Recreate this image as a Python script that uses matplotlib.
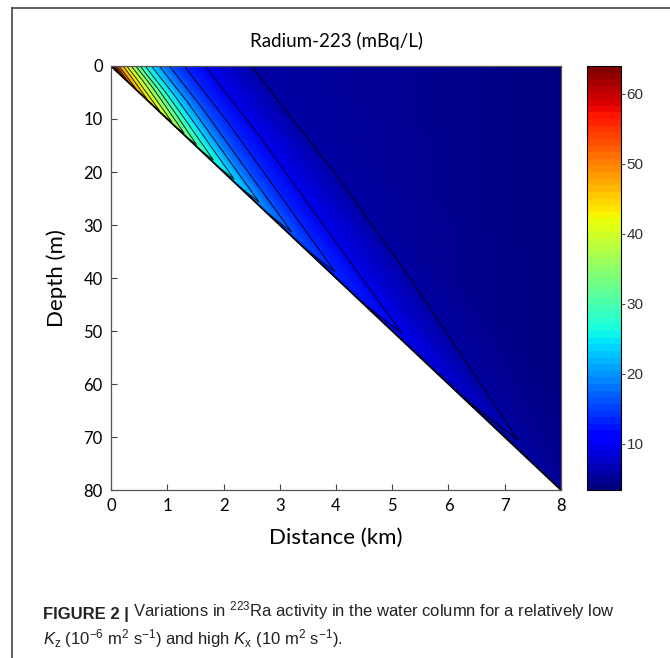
import numpy as np
import matplotlib
matplotlib.use("Agg")
import matplotlib.pyplot as plt
import matplotlib.tri as mtri
from matplotlib.lines import Line2D
from matplotlib.colors import Normalize
from matplotlib.cm import ScalarMappable

# contour levels (mBq/L), from the shore outwards
LEVELS = [62, 58.5, 55, 51.5, 48, 44.5, 41, 37.5, 34, 30.5, 27, 23.5, 20, 16.5, 13, 9.5, 6]
# fraction of local water depth where each contour position is read
# (last two: the wedge tip just above the floor, and where it returns to the floor)
DEPTH_FRAC = [0.0, 0.25, 0.5, 0.75, 0.975, 1.0]
# distance (km) of each contour at those depth fractions
CONTOUR_X = [
    [0.025, 0.030, 0.040, 0.053, 0.08, 0.07],
    [0.045, 0.055, 0.071, 0.095, 0.14, 0.12],
    [0.07, 0.085, 0.11, 0.15, 0.21, 0.18],
    [0.10, 0.12, 0.16, 0.21, 0.31, 0.27],
    [0.14, 0.17, 0.22, 0.30, 0.44, 0.38],
    [0.21, 0.26, 0.33, 0.45, 0.64, 0.55],
    [0.28, 0.34, 0.44, 0.59, 0.86, 0.74],
    [0.36, 0.44, 0.57, 0.76, 1.08, 0.93],
    [0.44, 0.54, 0.70, 0.93, 1.30, 1.12],
    [0.52, 0.63, 0.82, 1.10, 1.52, 1.31],
    [0.61, 0.74, 0.96, 1.29, 1.82, 1.57],
    [0.72, 0.88, 1.14, 1.53, 2.19, 1.89],
    [0.86, 1.05, 1.36, 1.82, 2.63, 2.27],
    [1.04, 1.27, 1.64, 2.20, 3.21, 2.77],
    [1.30, 1.59, 2.05, 2.76, 3.98, 3.44],
    [1.67, 2.04, 2.64, 3.54, 5.17, 4.46],
    [2.50, 3.05, 3.95, 5.30, 7.24, 6.25],
]
SHORE_VALUE = 64.0                                  # coast, surface
OFFSHORE_VALUES = [3.4, 3.6, 3.9, 4.3, 4.8, 4.9]    # at 8 km, same depth fractions
X_MAX = 8.0
SLOPE = 10.0                                        # m of depth per km offshore
VMIN, VMAX = 3.4, 64.0

XTICKS = [0, 1, 2, 3, 4, 5, 6, 7, 8]
YTICKS = [0, 10, 20, 30, 40, 50, 60, 70, 80]
CBAR_TICKS = [10, 20, 30, 40, 50, 60]

plt.rcParams["mathtext.fontset"] = "custom"
plt.rcParams["mathtext.rm"] = "Liberation Sans"
plt.rcParams["mathtext.it"] = "Liberation Sans:italic"

fig = plt.figure(figsize=(6.70, 6.58), dpi=100)
ax = fig.add_axes([0.1657, 0.2553, 0.6716, 0.6444])
cax = fig.add_axes([0.876, 0.2553, 0.0507, 0.6444])

# nodes: coast apex, each contour column, offshore edge
frac = np.array(DEPTH_FRAC)
cols_x = [np.array(c) for c in CONTOUR_X] + [np.full(len(frac), X_MAX)]
cols_v = [np.full(len(frac), lv) for lv in LEVELS] + [np.array(OFFSHORE_VALUES)]
xs, zs, vs = [0.0], [0.0], [SHORE_VALUE]
for cx, cv in zip(cols_x, cols_v):
    xs.extend(cx)
    zs.extend(frac * SLOPE * cx)
    vs.extend(cv)
xs, zs, vs = np.array(xs), np.array(zs), np.array(vs)

n = len(frac)
tris = [[0, 1 + i, 2 + i] for i in range(n - 1)]
for j in range(len(cols_x) - 1):
    for i in range(n - 1):
        a = 1 + j * n + i
        b = 1 + (j + 1) * n + i
        tris.append([a, b, b + 1])
        tris.append([a, b + 1, a + 1])
tri = mtri.Triangulation(xs, zs, np.array(tris))

cmap = plt.get_cmap("jet", 64)
norm = Normalize(VMIN, VMAX)
ax.tripcolor(tri, vs, cmap=cmap, norm=norm, shading="gouraud")

# contour lines
for cx in CONTOUR_X:
    cx = np.array(cx)
    ax.plot(cx, frac * SLOPE * cx, color="k", lw=0.7, alpha=0.85)
# sea floor
bx = np.array([0.0, X_MAX])
ax.plot(bx, bx * SLOPE, color="k", lw=1.3)

ax.set_xlim(0, X_MAX)
ax.set_ylim(X_MAX * SLOPE, 0)
ax.set_xticks(XTICKS)
ax.set_yticks(YTICKS)
ax.tick_params(direction="in", length=4, width=0.8, labelsize=12, colors="#444444",
               labelcolor="black", pad=6)
for lab in ax.get_xticklabels() + ax.get_yticklabels():
    lab.set_family("Lato")
for sp in ax.spines.values():
    sp.set_color("#555555")
    sp.set_linewidth(0.9)
ax.set_xlabel("Distance (km)", family="Lato", fontsize=16, labelpad=10)
ax.set_ylabel("Depth (m)", family="Lato", fontsize=16, labelpad=12)
ax.set_title("Radium-223 (mBq/L)", family="Lato", fontsize=13.5, pad=14)

cb = fig.colorbar(ScalarMappable(norm=norm, cmap=cmap), cax=cax)
cb.set_ticks(CBAR_TICKS)
cb.outline.set_linewidth(0.8)
cax.tick_params(direction="out", length=3, labelsize=11, labelcolor="#333333",
                colors="#555555", pad=1)
for lab in cax.get_yticklabels():
    lab.set_family("Liberation Sans")

# page frame
fig.add_artist(Line2D([0.018, 1.0], [0.988, 0.988], color="#444444", lw=1.2))
fig.add_artist(Line2D([0.018, 0.018], [0.0, 0.988], color="#444444", lw=1.2))

# caption
cap_font = "Liberation Sans"
t1 = fig.text(0.064, 0.060, "FIGURE 2 |", family=cap_font, weight="bold",
              fontsize=12, color="#222222")
ax.annotate(" Variations in $^{223}$Ra activity in the water column for a relatively low",
            xy=(1, 0), xycoords=t1, va="bottom", ha="left",
            family=cap_font, fontsize=12, color="#222222", annotation_clip=False)
fig.text(0.064, 0.020,
         r"$\mathit{K}_{\mathrm{z}}$ (10$^{-6}$ m$^{2}$ s$^{-1}$) and high "
         r"$\mathit{K}_{\mathrm{x}}$ (10 m$^{2}$ s$^{-1}$).",
         family=cap_font, fontsize=12, color="#222222")

fig.savefig("out.png", dpi=100)
